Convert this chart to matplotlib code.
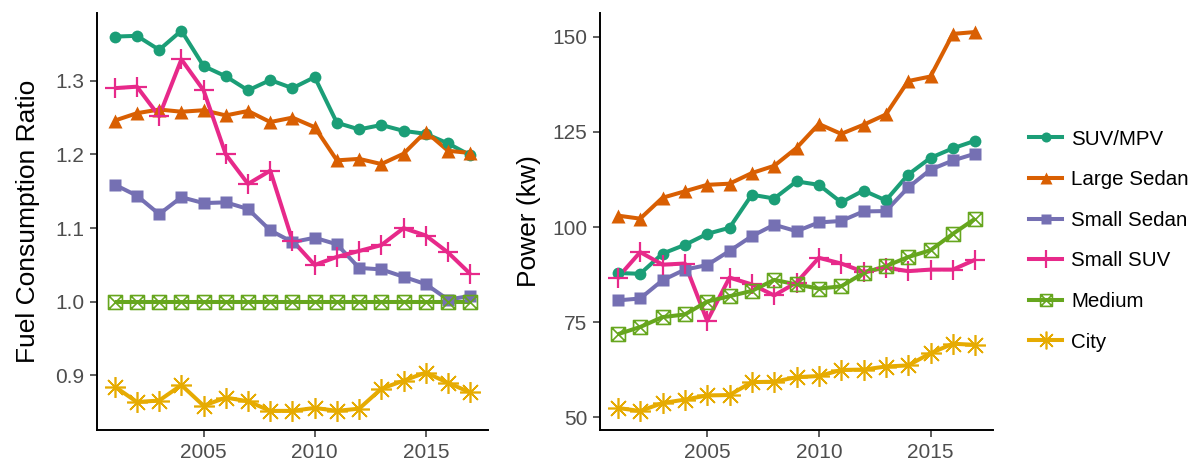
import numpy as np
import matplotlib
matplotlib.use("Agg")
import matplotlib.pyplot as plt
from matplotlib.path import Path
from matplotlib.lines import Line2D

plt.rcParams['font.family'] = ['Liberation Sans', 'DejaVu Sans']

years = list(range(2001, 2018))
classes = ['SUV/MPV', 'Large Sedan', 'Small Sedan', 'Small SUV', 'Medium', 'City']

# fuel consumption relative to the Medium class
fc_suv_mpv = [1.360, 1.361, 1.342, 1.368, 1.320, 1.306, 1.287, 1.301, 1.290, 1.305,
              1.243, 1.234, 1.240, 1.232, 1.228, 1.215, 1.199]
fc_large_sedan = [1.246, 1.256, 1.261, 1.258, 1.260, 1.253, 1.259, 1.244, 1.250, 1.237,
                  1.192, 1.194, 1.187, 1.201, 1.231, 1.205, 1.202]
fc_small_sedan = [1.159, 1.144, 1.119, 1.142, 1.134, 1.135, 1.126, 1.097, 1.081, 1.087,
                  1.078, 1.046, 1.044, 1.034, 1.024, 1.003, 1.008]
fc_small_suv = [1.290, 1.292, 1.252, 1.329, 1.287, 1.200, 1.160, 1.178, 1.083, 1.050,
                1.061, 1.069, 1.077, 1.100, 1.090, 1.067, 1.038]
fc_medium = [1.0] * 17
fc_city = [0.885, 0.864, 0.866, 0.887, 0.859, 0.870, 0.865, 0.852, 0.852, 0.856,
           0.852, 0.855, 0.882, 0.893, 0.904, 0.890, 0.877]

# average rated power (kw)
pw_suv_mpv = [87.9, 87.7, 93.0, 95.3, 98.2, 99.8, 108.5, 107.5, 112.0, 111.1,
              106.5, 109.6, 107.0, 113.8, 118.2, 120.7, 122.7]
pw_large_sedan = [103.0, 102.2, 107.7, 109.4, 111.1, 111.4, 114.2, 116.1, 120.8, 127.1,
                  124.5, 126.9, 129.6, 138.4, 139.6, 150.8, 151.3]
pw_small_sedan = [80.7, 81.2, 86.0, 88.8, 90.0, 93.7, 97.6, 100.6, 98.9, 101.2,
                  101.6, 104.1, 104.2, 110.4, 115.1, 117.5, 119.3]
pw_small_suv = [86.7, 93.4, 90.1, 90.4, 75.3, 86.7, 84.9, 82.0, 85.4, 91.9,
                90.4, 88.2, 89.3, 88.4, 88.8, 88.8, 91.4]
pw_medium = [71.8, 73.7, 76.3, 77.0, 80.4, 81.8, 83.2, 86.1, 84.9, 83.8,
             84.4, 87.9, 89.7, 92.1, 93.9, 98.2, 102.2]
pw_city = [52.4, 51.6, 53.7, 54.6, 55.7, 55.8, 59.2, 59.3, 60.5, 60.8,
           62.4, 62.5, 63.3, 63.6, 66.8, 69.3, 69.0]

fuel = [fc_suv_mpv, fc_large_sedan, fc_small_sedan, fc_small_suv, fc_medium, fc_city]
power = [pw_suv_mpv, pw_large_sedan, pw_small_sedan, pw_small_suv, pw_medium, pw_city]

colors = ['#1B9E77', '#D95F02', '#7570B3', '#E7298A', '#66A61E', '#E6AB02']

# square with a cross in it, drawn open
boxx = Path([(-1, -1), (1, -1), (1, 1), (-1, 1), (-1, -1), (-1, -1), (1, 1), (-1, 1), (1, -1)],
            [Path.MOVETO, Path.LINETO, Path.LINETO, Path.LINETO, Path.CLOSEPOLY,
             Path.MOVETO, Path.LINETO, Path.MOVETO, Path.LINETO])

mstyle = [
    dict(marker='o', ms=8.5, mec='none'),
    dict(marker='^', ms=10.5, mec='none'),
    dict(marker='s', ms=8, mec='none'),
    dict(marker='+', ms=15, mew=1.6),
    dict(marker=boxx, ms=10, mfc='none', mew=1.2),
    dict(marker=(8, 2, 0), ms=15, mew=1.2),
]


def draw(ax, series):
    # lines first, then all points on top
    for vals, c in zip(series, colors):
        ax.plot(years, vals, color=c, lw=2.9, solid_capstyle='butt', zorder=2)
    for vals, c, st in zip(series, colors, mstyle):
        kw = dict(st)
        kw.setdefault('mfc', c)
        ax.plot(years, vals, ls='none', color=c, zorder=3, clip_on=False, **kw)
    ax.set_xlim(2000.2, 2017.8)
    ax.set_xticks([2005, 2010, 2015])
    for side in ['top', 'right']:
        ax.spines[side].set_visible(False)
    for side in ['left', 'bottom']:
        ax.spines[side].set_linewidth(1.4)
        ax.spines[side].set_color('black')
    ax.tick_params(axis='both', labelsize=15, labelcolor='#4D4D4D', color='#333333',
                   length=5, width=1.1, pad=4)


fig = plt.figure(figsize=(11.94, 4.61), dpi=100)
ax1 = fig.add_axes([0.0812, 0.0672, 0.3275, 0.9046])
ax2 = fig.add_axes([0.5025, 0.0672, 0.3292, 0.9046])

draw(ax1, fuel)
ax1.set_ylim(0.826, 1.392)
ax1.set_yticks([0.9, 1.0, 1.1, 1.2, 1.3])
ax1.set_yticklabels(['0.9', '1.0', '1.1', '1.2', '1.3'])
ax1.set_ylabel('Fuel Consumption Ratio', fontsize=19, labelpad=11)

draw(ax2, power)
ax2.set_ylim(46.6, 156.3)
ax2.set_yticks([50, 75, 100, 125, 150])
ax2.set_ylabel('Power (kw)', fontsize=19, labelpad=8)

handles = []
for c, st in zip(colors, mstyle):
    kw = dict(st)
    kw.setdefault('mfc', c)
    kw['ms'] = kw['ms'] * 0.85
    handles.append(Line2D([], [], color=c, lw=2.9, **kw))
fig.legend(handles, classes, loc='center left', bbox_to_anchor=(0.855, 0.478),
           frameon=False, fontsize=14.8, handlelength=1.6, handletextpad=0.45,
           labelspacing=1.05, borderaxespad=0)

fig.savefig('out.png', dpi=100)
